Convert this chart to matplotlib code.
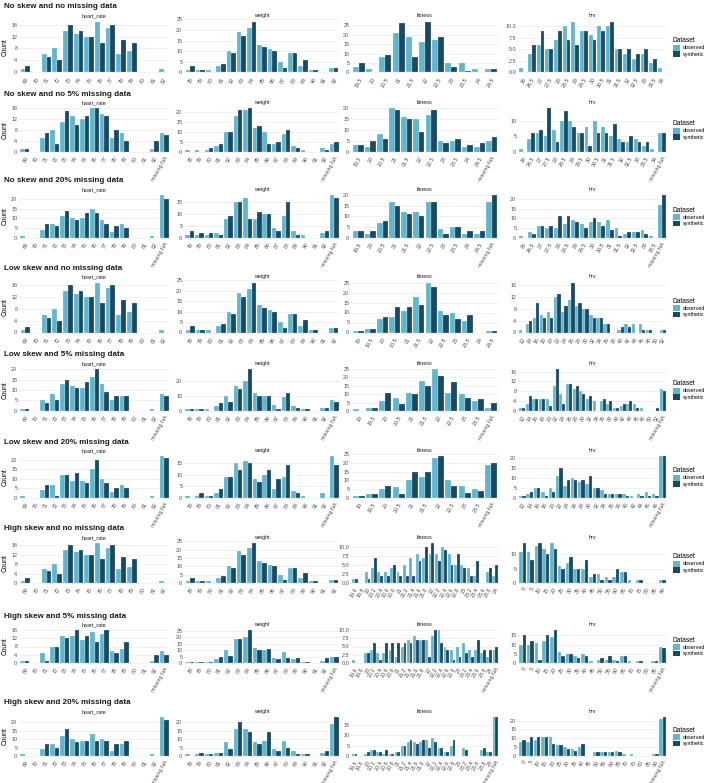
import matplotlib
matplotlib.use("Agg")
import matplotlib.pyplot as plt
from matplotlib.patches import Patch
import numpy as np

plt.rcParams["font.family"] = ["Liberation Sans", "DejaVu Sans"]

OBS_COLOR = "#62B6CB"
SYN_COLOR = "#1B4965"

ROW_TITLES = [
    "No skew and no missing data",
    "No skew and no 5% missing data",
    "No skew and 20% missing data",
    "Low skew and no missing data",
    "Low skew and 5% missing data",
    "Low skew and 20% missing data",
    "High skew and no missing data",
    "High skew and 5% missing data",
    "High skew and 20% missing data",
]
VARIABLES = ["heart_rate", "weight", "fitness", "hrv"]

# ---- category labels ----
HR_CATS = ["69", "70", "71", "72", "73", "74", "75", "76", "77", "78", "79", "80", "81", "82"]
HR_CATS_NA = HR_CATS + ["missing NA"]
WT_CATS = ["78", "79", "80", "81", "82", "83", "84", "85", "86", "87", "88", "89", "90", "91", "92"]
WT_CATS_NA = WT_CATS + ["missing NA"]
FIT_CATS_NO = ["19.5", "20", "20.5", "21", "21.5", "22", "22.5", "23", "23.5", "24", "24.5"]
FIT_CATS_NO_NA = FIT_CATS_NO + ["missing NA"]
FIT_CATS_LOW = ["19", "19.5", "20", "20.5", "21", "21.5", "22", "22.5", "23", "23.5", "24", "24.5"]
FIT_CATS_LOW_NA = ["19", "19.5", "20", "20.5", "21", "21.5", "22", "22.5", "23", "23.5", "missing NA"]
FIT_CATS_HIGH = ["19.6", "19.8", "20", "20.2", "20.4", "20.6", "20.8", "21", "21.2", "21.4", "21.6",
                 "21.8", "22", "22.2", "22.4", "22.6", "22.8", "23", "23.2", "23.4", "23.6", "23.8", "24"]
FIT_CATS_HIGH_NA = FIT_CATS_HIGH + ["missing NA"]
HRV_CATS_NO = ["26", "26.5", "27", "27.5", "28", "28.5", "29", "29.5", "30", "30.5", "31", "31.5",
               "32", "32.5", "33", "33.5", "34"]
HRV_CATS_NO_NA = HRV_CATS_NO + ["missing NA"]
HRV_CATS_NO_20 = HRV_CATS_NO[:-1] + ["missing NA"]
HRV_CATS_LOW = ["12", "14", "16", "18", "20", "22", "24", "26", "28", "30", "32", "34", "36", "38",
                "40", "42", "44", "46", "48", "50", "52"]
HRV_CATS_LOW_NA = HRV_CATS_LOW + ["missing NA"]
HRV_CATS_LOW_20 = HRV_CATS_LOW[:-2] + ["missing NA"]
HRV_CATS_HIGH = ["0", "5", "10", "15", "20", "25", "30", "35", "40", "45", "50", "55", "60", "65",
                 "70", "75", "80", "85", "90"]
HRV_CATS_HIGH_5 = HRV_CATS_HIGH[:-1] + ["missing NA"]
HRV_CATS_HIGH_NA = HRV_CATS_HIGH + ["missing NA"]

# ---- heart_rate counts ----
HR_FULL_OBS = [1, 0, 6, 8, 14, 13, 12, 17, 15, 6, 7, 0, 0, 1]
HR_FULL_SYN = [2, 0, 5, 4, 16, 14, 12, 10, 16, 11, 10, 0, 0, 0]
HR_NO5_OBS = [1, 0, 5, 8, 11, 13, 12, 16, 14, 5, 7, 0, 0, 1, 7]
HR_NO5_SYN = [1, 0, 7, 3, 15, 10, 13, 16, 13, 8, 4, 0, 0, 4, 6]
HR_NO20_OBS = [1, 0, 4, 7, 11, 10, 10, 15, 9, 3, 7, 0, 0, 1, 22]
HR_NO20_SYN = [0, 0, 7, 6, 14, 9, 13, 13, 7, 6, 5, 0, 0, 0, 20]
HR_LOW5_OBS = [1, 0, 5, 8, 13, 12, 11, 16, 13, 5, 7, 0, 0, 1, 8]
HR_LOW5_SYN = [1, 0, 4, 5, 15, 11, 14, 20, 9, 7, 7, 0, 0, 0, 7]
HR_LOW20_OBS = [1, 0, 4, 7, 12, 9, 9, 15, 10, 3, 7, 0, 0, 1, 22]
HR_LOW20_SYN = [0, 0, 7, 1, 12, 13, 8, 20, 8, 5, 5, 0, 0, 0, 21]
HR_HIGH5_OBS = [1, 0, 5, 8, 13, 13, 11, 15, 14, 6, 7, 0, 0, 1, 6]
HR_HIGH5_SYN = [1, 0, 1, 8, 12, 16, 13, 10, 16, 5, 10, 0, 0, 4, 4]
HR_HIGH20_OBS = [1, 0, 4, 7, 12, 10, 9, 13, 10, 3, 7, 0, 0, 1, 23]
HR_HIGH20_SYN = [0, 0, 7, 5, 16, 8, 9, 9, 9, 7, 9, 0, 0, 0, 21]

# ---- weight counts ----
WT_FULL_OBS = [1, 1, 1, 3, 10, 19, 21, 13, 11, 5, 9, 3, 1, 0, 2]
WT_FULL_SYN = [3, 1, 0, 4, 9, 17, 24, 12, 10, 2, 9, 6, 1, 0, 2]
WT_NO5_OBS = [1, 1, 1, 3, 10, 18, 21, 12, 10, 4, 9, 3, 1, 0, 2, 4]
WT_NO5_SYN = [0, 0, 2, 4, 10, 21, 22, 13, 4, 5, 11, 2, 0, 0, 1, 5]
WT_NO20_OBS = [1, 1, 1, 2, 8, 15, 17, 8, 10, 4, 9, 3, 1, 0, 2, 18]
WT_NO20_SYN = [3, 2, 2, 1, 9, 15, 8, 11, 10, 3, 15, 1, 0, 0, 3, 17]
WT_LOW5_OBS = [1, 1, 1, 3, 10, 17, 20, 12, 10, 4, 9, 3, 1, 0, 2, 7]
WT_LOW5_SYN = [1, 1, 0, 5, 6, 15, 28, 10, 10, 1, 12, 2, 1, 0, 2, 6]
WT_LOW20_OBS = [1, 1, 1, 2, 9, 15, 16, 8, 10, 4, 9, 3, 1, 0, 2, 18]
WT_LOW20_SYN = [0, 2, 1, 4, 9, 12, 15, 7, 12, 8, 14, 2, 0, 0, 0, 14]
WT_HIGH5_OBS = [1, 1, 1, 3, 10, 19, 20, 12, 10, 4, 9, 3, 1, 0, 2, 5]
WT_HIGH5_SYN = [1, 1, 1, 5, 6, 19, 26, 10, 11, 3, 4, 4, 1, 0, 4, 5]
WT_HIGH20_OBS = [1, 1, 1, 2, 8, 16, 16, 8, 9, 4, 9, 3, 1, 0, 2, 19]
WT_HIGH20_SYN = [0, 2, 1, 2, 4, 20, 14, 7, 14, 3, 5, 1, 1, 0, 3, 23]

# ---- fitness counts ----
FIT_NO0_OBS = [3, 2, 8, 21, 19, 16, 17, 5, 5, 2, 2]
FIT_NO0_SYN = [5, 0, 9, 26, 8, 27, 19, 3, 1, 0, 2]
FIT_NO5_OBS = [3, 2, 8, 20, 16, 15, 17, 5, 5, 2, 2, 5]
FIT_NO5_SYN = [3, 5, 6, 19, 15, 9, 19, 4, 6, 3, 4, 7]
FIT_NO20_OBS = [3, 2, 7, 17, 12, 12, 17, 4, 5, 2, 2, 17]
FIT_NO20_SYN = [3, 3, 8, 15, 11, 10, 17, 2, 5, 3, 3, 20]
FIT_LOW0_OBS = [1, 2, 7, 8, 11, 18, 25, 11, 10, 6, 0, 1]
FIT_LOW0_SYN = [1, 2, 8, 13, 13, 14, 23, 9, 7, 9, 0, 1]
FIT_LOW5_OBS = [1, 2, 6, 8, 11, 18, 25, 11, 10, 6, 2]
FIT_LOW5_SYN = [0, 2, 11, 4, 10, 15, 21, 17, 8, 7, 5]
FIT_LOW20_OBS = [1, 2, 5, 6, 10, 12, 23, 10, 7, 5, 19]
FIT_LOW20_SYN = [1, 2, 7, 2, 15, 15, 24, 7, 3, 4, 20]
FIT_HIGH0_OBS = [1, 0, 3, 4, 3, 3, 4, 3, 5, 7, 8, 7, 8, 8, 10, 8, 5, 5, 4, 2, 0, 3, 2]
FIT_HIGH0_SYN = [1, 0, 1, 7, 2, 2, 5, 2, 2, 2, 6, 10, 11, 6, 9, 5, 8, 4, 2, 6, 0, 4, 5]
FIT_HIGH5_OBS = [1, 0, 3, 4, 3, 3, 4, 2, 5, 7, 8, 7, 7, 8, 10, 5, 4, 5, 6, 4, 4, 3, 2, 4]
FIT_HIGH5_SYN = [0, 0, 3, 6, 1, 6, 6, 6, 6, 6, 7, 7, 2, 10, 6, 4, 1, 2, 3, 2, 7, 4, 4, 5]
FIT_HIGH20_OBS = [1, 0, 1, 3, 2, 1, 1, 2, 5, 7, 7, 7, 8, 9, 4, 2, 5, 0, 4, 0, 0, 3, 2, 19]
FIT_HIGH20_SYN = [1, 0, 2, 3, 2, 3, 1, 2, 5, 8, 6, 8, 4, 7, 4, 2, 8, 0, 3, 0, 0, 4, 2, 19]

# ---- hrv counts ----
HRV_NO0_OBS = [1, 4, 6, 5, 7, 10, 11, 9, 8, 10, 10, 5, 4, 3, 4, 2, 1]
HRV_NO0_SYN = [0, 6, 9, 5, 9, 7, 6, 9, 7, 9, 11, 5, 5, 4, 5, 3, 0]
HRV_NO5_OBS = [1, 4, 6, 5, 7, 10, 10, 6, 8, 10, 8, 5, 4, 3, 4, 2, 1, 6]
HRV_NO5_SYN = [0, 6, 7, 14, 3, 13, 8, 6, 2, 6, 6, 9, 3, 5, 3, 3, 0, 6]
HRV_NO20_OBS = [1, 3, 6, 5, 5, 7, 9, 7, 8, 8, 9, 5, 2, 3, 4, 1, 17]
HRV_NO20_SYN = [0, 2, 6, 6, 11, 11, 8, 5, 10, 6, 4, 1, 3, 3, 2, 0, 22]
HRV_LOW0_OBS = [1, 3, 5, 6, 7, 12, 7, 11, 9, 8, 6, 5, 3, 0, 1, 3, 3, 3, 1, 0, 1]
HRV_LOW0_SYN = [0, 4, 10, 5, 5, 13, 9, 17, 10, 8, 5, 5, 3, 0, 2, 2, 0, 1, 1, 0, 1]
HRV_LOW5_OBS = [1, 3, 5, 5, 5, 10, 7, 11, 9, 8, 5, 4, 4, 3, 1, 2, 3, 3, 1, 0, 0, 9]
HRV_LOW5_SYN = [1, 6, 5, 5, 2, 17, 3, 11, 10, 7, 6, 0, 5, 4, 1, 3, 4, 1, 0, 0, 1, 8]
HRV_LOW20_OBS = [1, 2, 5, 3, 5, 11, 6, 10, 8, 7, 5, 4, 2, 2, 2, 1, 2, 3, 2, 21]
HRV_LOW20_SYN = [1, 3, 5, 1, 3, 15, 9, 9, 9, 11, 5, 2, 2, 2, 1, 0, 1, 1, 1, 21]
HRV_HIGH0_OBS = [11, 11, 13, 12, 14, 6, 7, 5, 5, 2, 3, 2, 2, 4, 1, 1, 0, 0, 1]
HRV_HIGH0_SYN = [14, 8, 14, 10, 12, 5, 9, 5, 8, 3, 1, 1, 5, 4, 0, 1, 0, 0, 1]
HRV_HIGH5_OBS = [10, 10, 11, 12, 14, 6, 5, 4, 5, 1, 2, 2, 2, 4, 1, 1, 0, 1, 9]
HRV_HIGH5_SYN = [15, 12, 2, 15, 18, 4, 5, 3, 4, 0, 3, 4, 1, 4, 0, 1, 0, 1, 8]
HRV_HIGH20_OBS = [8, 8, 9, 11, 11, 6, 5, 4, 5, 0, 2, 2, 2, 3, 1, 1, 0, 0, 1, 21]
HRV_HIGH20_SYN = [9, 11, 11, 11, 7, 6, 4, 3, 7, 0, 2, 2, 2, 2, 0, 0, 0, 0, 1, 22]

# one row per scenario: (categories, observed, synthetic) for each variable
ROWS = [
    [(HR_CATS, HR_FULL_OBS, HR_FULL_SYN), (WT_CATS, WT_FULL_OBS, WT_FULL_SYN),
     (FIT_CATS_NO, FIT_NO0_OBS, FIT_NO0_SYN), (HRV_CATS_NO, HRV_NO0_OBS, HRV_NO0_SYN)],
    [(HR_CATS_NA, HR_NO5_OBS, HR_NO5_SYN), (WT_CATS_NA, WT_NO5_OBS, WT_NO5_SYN),
     (FIT_CATS_NO_NA, FIT_NO5_OBS, FIT_NO5_SYN), (HRV_CATS_NO_NA, HRV_NO5_OBS, HRV_NO5_SYN)],
    [(HR_CATS_NA, HR_NO20_OBS, HR_NO20_SYN), (WT_CATS_NA, WT_NO20_OBS, WT_NO20_SYN),
     (FIT_CATS_NO_NA, FIT_NO20_OBS, FIT_NO20_SYN), (HRV_CATS_NO_20, HRV_NO20_OBS, HRV_NO20_SYN)],
    [(HR_CATS, HR_FULL_OBS, HR_FULL_SYN), (WT_CATS, WT_FULL_OBS, WT_FULL_SYN),
     (FIT_CATS_LOW, FIT_LOW0_OBS, FIT_LOW0_SYN), (HRV_CATS_LOW, HRV_LOW0_OBS, HRV_LOW0_SYN)],
    [(HR_CATS_NA, HR_LOW5_OBS, HR_LOW5_SYN), (WT_CATS_NA, WT_LOW5_OBS, WT_LOW5_SYN),
     (FIT_CATS_LOW_NA, FIT_LOW5_OBS, FIT_LOW5_SYN), (HRV_CATS_LOW_NA, HRV_LOW5_OBS, HRV_LOW5_SYN)],
    [(HR_CATS_NA, HR_LOW20_OBS, HR_LOW20_SYN), (WT_CATS_NA, WT_LOW20_OBS, WT_LOW20_SYN),
     (FIT_CATS_LOW_NA, FIT_LOW20_OBS, FIT_LOW20_SYN), (HRV_CATS_LOW_20, HRV_LOW20_OBS, HRV_LOW20_SYN)],
    [(HR_CATS, HR_FULL_OBS, HR_FULL_SYN), (WT_CATS, WT_FULL_OBS, WT_FULL_SYN),
     (FIT_CATS_HIGH, FIT_HIGH0_OBS, FIT_HIGH0_SYN), (HRV_CATS_HIGH, HRV_HIGH0_OBS, HRV_HIGH0_SYN)],
    [(HR_CATS_NA, HR_HIGH5_OBS, HR_HIGH5_SYN), (WT_CATS_NA, WT_HIGH5_OBS, WT_HIGH5_SYN),
     (FIT_CATS_HIGH_NA, FIT_HIGH5_OBS, FIT_HIGH5_SYN), (HRV_CATS_HIGH_5, HRV_HIGH5_OBS, HRV_HIGH5_SYN)],
    [(HR_CATS_NA, HR_HIGH20_OBS, HR_HIGH20_SYN), (WT_CATS_NA, WT_HIGH20_OBS, WT_HIGH20_SYN),
     (FIT_CATS_HIGH_NA, FIT_HIGH20_OBS, FIT_HIGH20_SYN), (HRV_CATS_HIGH_NA, HRV_HIGH20_OBS, HRV_HIGH20_SYN)],
]

# y break spacing per panel (ggplot picked these)
TICK_STEPS = [
    [4, 5, 5, 2.5],
    [4, 5, 5, 5],
    [5, 5, 5, 5],
    [4, 5, 5, 4],
    [5, 10, 5, 4],
    [5, 5, 5, 5],
    [4, 5, 2.5, 5],
    [4, 5, 2.5, 5],
    [5, 5, 5, 5],
]

# ---- layout in pixels ----
W, H = 708, 783
ROW_TOP = [0, 87, 174, 261, 348, 435, 522, 609, 696]
PANEL_TOP_OFF = 19
PANEL_BOT_OFF = [75, 67, 66, 74, 65, 65, 63, 56, 62]
PANEL_X = [(19, 170), (184, 340), (351, 499), (518, 667)]

TICK_COLOR = "#4D4D4D"
GRID_COLOR = "#EBEBEB"


def draw_panel(ax, cats, obs, syn, step, title, show_ylabel):
    x = np.arange(len(cats))
    ax.bar(x - 0.225, obs, 0.45, color=OBS_COLOR, edgecolor="white", linewidth=0.15)
    ax.bar(x + 0.225, syn, 0.45, color=SYN_COLOR, edgecolor="white", linewidth=0.15)
    ymax = max(max(obs), max(syn))
    ax.set_ylim(-0.05 * ymax, 1.05 * ymax)
    ax.set_xlim(-0.6, len(cats) - 0.4)
    ticks = np.arange(0, ymax * 1.05 + 1e-9, step)
    ax.set_yticks(ticks)
    if float(step).is_integer():
        ax.set_yticklabels([f"{t:.0f}" for t in ticks])
    else:
        ax.set_yticklabels([f"{t:.1f}" for t in ticks])
    ax.set_xticks(x)
    ax.set_xticklabels(cats, rotation=60, ha="right", rotation_mode="anchor")
    ax.tick_params(axis="both", length=0, labelsize=3.9, labelcolor=TICK_COLOR, pad=1.2)
    for s in ax.spines.values():
        s.set_visible(False)
    ax.grid(axis="y", color=GRID_COLOR, linewidth=0.5)
    ax.set_axisbelow(True)
    ax.set_title(title, fontsize=3.9, color="#1A1A1A", pad=1.5)
    if show_ylabel:
        ax.set_ylabel("Count", fontsize=4.8, labelpad=2)


fig = plt.figure(figsize=(W / 100, H / 100), dpi=100)

for ri, row in enumerate(ROWS):
    top = ROW_TOP[ri]
    y0 = top + PANEL_TOP_OFF
    y1 = top + PANEL_BOT_OFF[ri]
    fig.text(4 / W, 1 - (top + 7) / H, ROW_TITLES[ri], fontsize=5.8, fontweight="bold",
             ha="left", va="center", color="#1A1A1A")
    for ci, (cats, obs, syn) in enumerate(row):
        xl, xr = PANEL_X[ci]
        ax = fig.add_axes([xl / W, 1 - y1 / H, (xr - xl) / W, (y1 - y0) / H])
        draw_panel(ax, cats, obs, syn, TICK_STEPS[ri][ci], VARIABLES[ci], ci == 0)

    handles = [Patch(facecolor=OBS_COLOR, label="observed"),
               Patch(facecolor=SYN_COLOR, label="synthetic")]
    leg = fig.legend(handles=handles, title="Dataset", loc="center left",
                     bbox_to_anchor=(670 / W, 1 - ((y0 + y1) / 2) / H),
                     frameon=False, fontsize=3.9, title_fontsize=4.8,
                     handlelength=1.3, handleheight=1.3, handletextpad=0.5,
                     labelspacing=0.1, borderpad=0)
    leg._legend_box.align = "left"

fig.savefig("out.png", dpi=100, facecolor="white")
